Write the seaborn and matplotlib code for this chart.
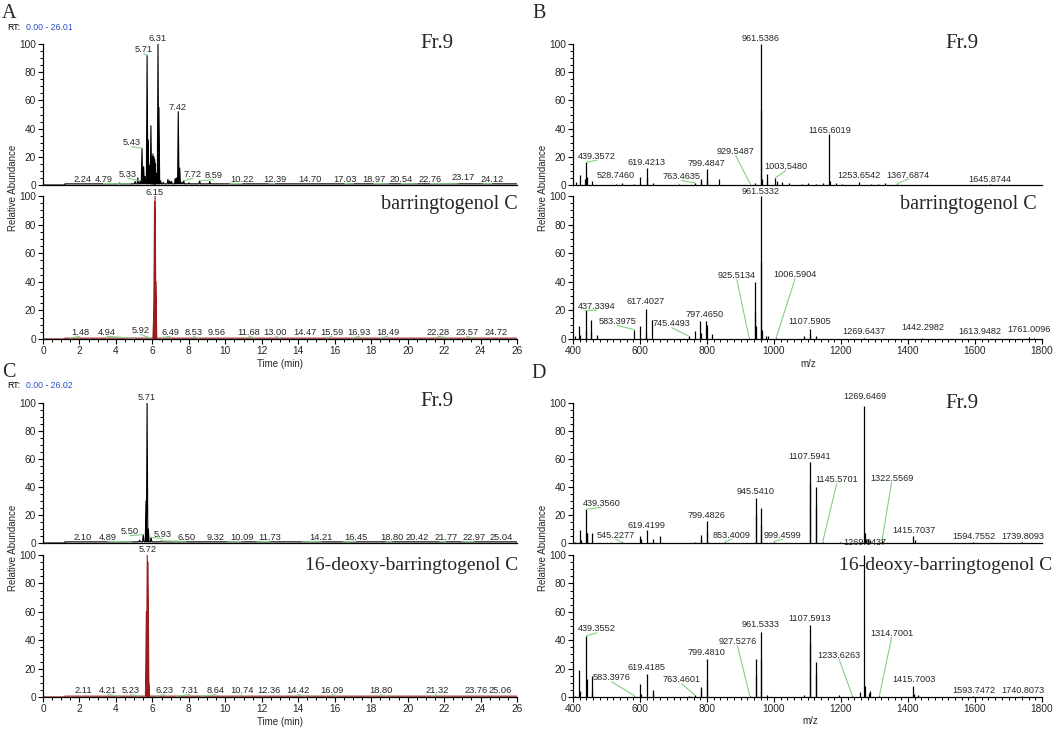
import numpy as np
import pandas as pd
import matplotlib
matplotlib.use("Agg")
import matplotlib.pyplot as plt
from matplotlib.ticker import MultipleLocator
import seaborn as sns

sns.set_theme(style="ticks")
plt.rcParams['font.family'] = ['Liberation Sans', 'DejaVu Sans']

# ---------------------------------------------------------------- data
# Chromatograms: peak apex retention times (min) and relative intensities
a_fr9_rt = [4.20, 5.05, 5.20, 5.33, 5.43, 5.52, 5.60, 5.71, 5.77, 5.85, 5.92, 5.98, 6.03,
            6.09, 6.13, 6.16, 6.22, 6.31, 6.36, 6.45, 6.60, 6.85, 6.95, 7.05, 7.25, 7.32,
            7.42, 7.50, 7.62, 7.72, 8.00, 8.59, 9.15, 10.22]
a_fr9_int = [1.5, 2.5, 5.0, 3.0, 26.0, 13.0, 6.0, 92.0, 32.0, 14.0, 42.0, 20.0, 22.0,
             20.0, 18.0, 15.0, 8.0, 100.0, 55.0, 3.0, 2.0, 4.0, 3.0, 2.5, 4.5, 5.0,
             52.0, 12.0, 2.0, 3.0, 1.5, 3.0, 2.5, 1.2]
a_std_rt = [6.08, 6.12, 6.15, 6.19, 6.49]
a_std_int = [20.0, 96.0, 100.0, 40.0, 1.0]
c_fr9_rt = [5.30, 5.50, 5.65, 5.71, 5.78, 5.93, 6.50, 7.30]
c_fr9_int = [2.0, 6.0, 30.0, 100.0, 10.0, 4.0, 1.5, 1.0]
c_std_rt = [5.67, 5.72, 5.76, 5.80]
c_std_int = [60.0, 100.0, 95.0, 10.0]

# Chromatogram peak labels: text (= RT), label x, label y
a_fr9_lab = ["2.24", "4.79", "5.33", "5.43", "5.71", "6.31", "7.42", "7.72", "8.59", "10.22",
             "12.39", "14.70", "17.03", "18.97", "20.54", "22.76", "23.17", "24.12"]
a_fr9_lab_x = [2.18, 3.31, 4.65, 4.89, 5.53, 6.30, 7.39, 8.22, 9.35, 10.91,
               12.70, 14.63, 16.55, 18.14, 19.65, 21.25, 23.05, 24.61]
a_fr9_lab_y = [3.8, 3.8, 7.5, 30.0, 96.0, 104.0, 55.0, 7.5, 6.5, 3.8,
               3.8, 3.8, 3.8, 3.8, 3.8, 3.8, 5.2, 3.8]
a_std_lab = ["6.15", "1.48", "4.94", "5.92", "6.49", "8.53", "9.56", "11.68", "13.00",
             "14.47", "15.59", "16.93", "18.49", "22.28", "23.57", "24.72"]
a_std_lab_x = [6.11, 2.03, 3.51, 5.34, 6.99, 8.25, 9.55, 11.28, 12.75,
               14.35, 15.85, 17.35, 18.90, 21.65, 23.25, 24.85]
a_std_lab_y = [102.5, 4.7, 4.7, 6.0, 4.7, 4.7, 4.7, 4.7, 4.7,
               4.7, 4.7, 4.7, 4.7, 4.7, 4.7, 4.7]
c_fr9_lab = ["5.71", "2.10", "4.89", "5.50", "5.93", "6.50", "9.32", "10.09", "11.73",
             "14.21", "16.45", "18.80", "20.42", "21.77", "22.97", "25.04"]
c_fr9_lab_x = [5.71, 2.19, 3.55, 4.75, 6.55, 7.85, 9.45, 10.90, 12.45,
               15.25, 17.15, 19.15, 20.55, 22.10, 23.65, 25.15]
c_fr9_lab_y = [104.0, 4.0, 4.0, 8.0, 6.0, 4.0, 4.0, 4.0, 4.0,
               4.0, 4.0, 4.0, 4.0, 4.0, 4.0, 4.0]
c_std_lab = ["5.72", "2.11", "4.21", "5.23", "6.23", "7.31", "8.64", "10.74", "12.36",
             "14.42", "16.09", "18.80", "21.32", "23.76", "25.06"]
c_std_lab_x = [5.72, 2.19, 3.55, 4.80, 6.67, 8.05, 9.47, 10.90, 12.38,
               13.97, 15.83, 18.52, 21.60, 23.74, 25.10]
c_std_lab_y = [104.0, 4.5, 4.5, 4.5, 4.5, 4.5, 4.5, 4.5, 4.5,
               4.5, 4.5, 4.5, 4.5, 4.5, 4.5]

# Mass spectra: m/z and relative abundance
b_fr9_mz = [408, 421, 437, 439.36, 440.4, 455.3, 528.7, 545, 583, 601.4, 619.42, 620.4,
            637.4, 715, 763.46, 781.5, 783.5, 799.48, 800.5, 835.5, 943.5, 961.54, 962.54,
            963.5, 979.5, 980.5, 1003.55, 1007.5, 1025, 1045, 1085, 1101, 1125, 1147,
            1165.6, 1166.6, 1185, 1203, 1253.65, 1290, 1310, 1330, 1367.69, 1645.87]
b_fr9_int = [2, 7, 4, 16, 6, 3, 1, 1.5, 1, 6, 12, 5,
             1.5, 0.8, 1.5, 2, 4, 11, 4, 4, 1.5, 100, 53,
             4, 8, 3, 5, 3, 2, 1.5, 1, 1.5, 1, 1.5,
             36, 3, 1.5, 1, 2.4, 1, 1, 1.5, 1, 0.5]
b_std_mz = [406, 419, 421, 437.34, 438.3, 453, 455, 471, 583.4, 601.4, 617.4, 618.4,
            635.4, 745.45, 763, 779.5, 781.5, 797.47, 799.5, 815.5, 925.5, 943.5, 944.5,
            945.5, 961.53, 962.53, 963.5, 977, 981, 1006.59, 1091, 1107.59, 1108.6, 1125,
            1269.64, 1442.3, 1761, 1775]
b_std_int = [2, 9, 3, 20, 6, 13, 5, 3, 6.5, 9, 21, 5,
             13.5, 2, 5.3, 12.3, 4, 12.3, 9.5, 3.5, 1, 40, 19,
             9, 100, 54, 6, 2, 2, 1, 2, 7, 2.5, 2,
             1, 1, 1.5, 1]
d_fr9_mz = [406, 421, 423, 439.36, 440.4, 441.4, 455.3, 545.2, 601.4, 602.4, 619.42,
            637.4, 661, 763.5, 781.5, 783.5, 799.48, 800.5, 853.4, 945.54, 946.5, 961.5,
            962.5, 999.46, 1107.59, 1108.6, 1125.6, 1126.6, 1145.57, 1197, 1269.65,
            1270.65, 1275, 1280, 1287, 1322.56, 1415.7, 1420, 1594.76, 1739.81]
d_fr9_int = [1, 9.5, 2, 24, 7, 7, 7.5, 0.5, 5, 3, 9,
             3, 5, 1, 3, 5.5, 15.5, 8, 0.8, 32.5, 20, 25,
             13, 1, 58, 42, 40, 26, 1, 1, 98,
             7.5, 3, 3, 2, 2, 5, 2, 0.5, 0.5]
d_std_mz = [406, 419, 420, 439.36, 440.4, 455.3, 456.3, 583.4, 601.4, 602.4, 619.42,
            637.4, 638.4, 745, 763.46, 781.5, 783.5, 799.48, 800.5, 927.5, 945.5, 946.5,
            961.53, 962.53, 979, 1091, 1107.59, 1108.6, 1125.6, 1126.6, 1194, 1233.6,
            1257, 1269.64, 1270.64, 1285, 1288, 1314.7, 1415.7, 1417, 1431, 1593.7, 1740.8]
d_std_int = [1, 19, 4, 43, 13, 14.6, 4, 1, 9, 2, 16.5,
             5, 2, 1, 1.5, 7, 4, 26.6, 12, 1, 26.6, 14.5,
             46, 26, 1.5, 1.2, 51, 37.6, 24.7, 16.5, 1.5, 1,
             3.5, 100, 7.8, 3, 4, 1, 7.8, 2, 1.5, 0.5, 0.5]

# Mass spectrum labels: text, label x, label y
b_fr9_lab = ["961.5386", "439.3572", "528.7460", "619.4213", "763.4635", "799.4847",
             "929.5487", "1003.5480", "1165.6019", "1253.6542", "1367.6874", "1645.8744"]
b_fr9_lab_x = [961, 471, 528, 618, 724, 797, 886, 1035, 1165, 1254, 1401, 1645]
b_fr9_lab_y = [104, 20.5, 6.6, 16, 6, 15.5, 23.7, 13, 39, 7, 7, 3.8]
b_std_lab = ["961.5332", "437.3394", "583.3975", "617.4027", "745.4493", "797.4650",
             "925.5134", "1006.5904", "1107.5905", "1269.6437", "1442.2982", "1613.9482",
             "1761.0096"]
b_std_lab_x = [961, 471, 532, 617, 695, 794, 889, 1063, 1107, 1269, 1443, 1615, 1761]
b_std_lab_y = [103, 23, 12.3, 26, 10.7, 17.4, 44.4, 45, 12.3, 5.3, 8, 5.3, 6.5]
d_fr9_lab = ["1269.6469", "439.3560", "545.2277", "619.4199", "799.4826", "853.4009",
             "945.5410", "999.4599", "1107.5941", "1145.5701", "1322.5569", "1415.7037",
             "1594.7552", "1739.8093"]
d_fr9_lab_x = [1272, 485, 528, 618, 797, 874, 945, 1025, 1107, 1187, 1351, 1418, 1597, 1744]
d_fr9_lab_y = [104.7, 28.4, 5.5, 12.6, 19.7, 5.5, 36.7, 5.5, 62, 45, 46, 9, 4.7, 4.7]
d_std_lab = ["1269.6437", "439.3552", "583.3976", "619.4185", "763.4601", "799.4810",
             "927.5276", "961.5333", "1107.5913", "1233.6263", "1314.7001", "1415.7003",
             "1593.7472", "1740.8073"]
d_std_lab_x = [1271, 471, 515, 618, 724, 797, 891, 960, 1107, 1195, 1351, 1418, 1598, 1743]
d_std_lab_y = [108.5, 48, 13.6, 21, 12.2, 31, 38.8, 51, 55, 29, 44.7, 12.2, 4.7, 4.7]

# ---------------------------------------------------------------- layout
W, H = 1063, 731
fig = plt.figure(figsize=(W / 100, H / 100), dpi=100)

GREEN = '#86cf86'
RED = '#9c1c1c'
SANS = ['Liberation Sans', 'DejaVu Sans']
SERIF = ['Liberation Serif', 'DejaVu Serif']


def make_ax(x0, x1, y100, y0):
    return fig.add_axes([x0 / W, 1 - y0 / H, (x1 - x0) / W, (y0 - y100) / H])


def style_ax(ax, xlim, xmaj, xmin, bottom_ticks):
    ax.set_xlim(*xlim)
    ax.set_ylim(0, 100)
    ax.set_facecolor('white')
    for s in ['top', 'right']:
        ax.spines[s].set_visible(False)
    for s in ['left', 'bottom']:
        ax.spines[s].set_linewidth(0.9)
        ax.spines[s].set_color('black')
    ax.yaxis.set_major_locator(MultipleLocator(20))
    ax.yaxis.set_minor_locator(MultipleLocator(5))
    ax.xaxis.set_major_locator(MultipleLocator(xmaj))
    ax.xaxis.set_minor_locator(MultipleLocator(xmin))
    ax.tick_params(which='major', direction='out', length=3.5, width=0.8, labelsize=7.3,
                   pad=1.5, color='black')
    ax.tick_params(which='minor', direction='out', length=2, width=0.7, color='black')
    if not bottom_ticks:
        ax.tick_params(axis='x', which='both', bottom=False, labelbottom=False)
    ax.set_xlabel('')
    ax.set_ylabel('')


def chrom_xy(rt, inten, base, hw, start=1.2, end=26.0):
    xs = [0.0, start, start]
    ys = [0.0, 0.0, base]
    for t, h in zip(rt, inten):
        xs += [t - hw, t, t + hw]
        ys += [base, h, base]
    xs.append(end)
    ys.append(base)
    return xs, ys


def draw_chrom(ax, rt, inten, color, base, hw, labs, lx, ly):
    xs, ys = chrom_xy(rt, inten, base, hw)
    df = pd.DataFrame({'t': xs, 'i': ys})
    sns.lineplot(data=df, x='t', y='i', sort=False, estimator=None, color=color,
                 lw=0.8, ax=ax)
    for s, x, y in zip(labs, lx, ly):
        t = float(s)
        hts = [h for r, h in zip(rt, inten) if abs(r - t) < 0.03]
        ty = max(hts) if hts else base
        ax.text(x, y, s, ha='center', va='center', fontsize=6.7, clip_on=False)
        if abs(x - t) > 0.15:
            ax.plot([t, x], [ty, y - 2.8], color=GREEN, lw=0.8, clip_on=False)


def draw_ms(ax, mz, inten, labs, lx, ly):
    ax.vlines(mz, 0, inten, color='black', lw=0.9)
    mz_a = np.array(mz, dtype=float)
    in_a = np.array(inten, dtype=float)
    for s, x, y in zip(labs, lx, ly):
        m = float(s)
        near = in_a[np.abs(mz_a - m) < 1.5]
        ty = near.max() if near.size else 0.5
        ax.text(x, y, s, ha='center', va='center', fontsize=6.6, clip_on=False)
        if abs(x - m) > 8:
            ax.plot([m, x], [ty, y - 2.8], color=GREEN, lw=0.8, clip_on=False)


def ftext(x, y, s, **kw):
    fig.text(x / W, 1 - y / H, s, **kw)


# Panel A
axA1 = make_ax(43, 517, 44, 185)
draw_chrom(axA1, a_fr9_rt, a_fr9_int, 'black', 0.8, 0.04, a_fr9_lab, a_fr9_lab_x, a_fr9_lab_y)
style_ax(axA1, (0, 26), 2, 0.5, False)
axA2 = make_ax(43, 517, 196, 339)
draw_chrom(axA2, a_std_rt, a_std_int, RED, 0.6, 0.05, a_std_lab, a_std_lab_x, a_std_lab_y)
style_ax(axA2, (0, 26), 2, 0.5, True)

# Panel B
axB1 = make_ax(573, 1042, 44, 185)
draw_ms(axB1, b_fr9_mz, b_fr9_int, b_fr9_lab, b_fr9_lab_x, b_fr9_lab_y)
style_ax(axB1, (400, 1800), 200, 20, False)
axB2 = make_ax(573, 1042, 196, 339)
draw_ms(axB2, b_std_mz, b_std_int, b_std_lab, b_std_lab_x, b_std_lab_y)
style_ax(axB2, (400, 1800), 200, 20, True)

# Panel C
axC1 = make_ax(43, 517, 403, 543)
draw_chrom(axC1, c_fr9_rt, c_fr9_int, 'black', 0.8, 0.04, c_fr9_lab, c_fr9_lab_x, c_fr9_lab_y)
style_ax(axC1, (0, 26), 2, 0.5, False)
axC2 = make_ax(43, 517, 555, 697)
draw_chrom(axC2, c_std_rt, c_std_int, RED, 0.6, 0.05, c_std_lab, c_std_lab_x, c_std_lab_y)
style_ax(axC2, (0, 26), 2, 0.5, True)

# Panel D
axD1 = make_ax(573, 1042, 403, 543)
draw_ms(axD1, d_fr9_mz, d_fr9_int, d_fr9_lab, d_fr9_lab_x, d_fr9_lab_y)
style_ax(axD1, (400, 1800), 200, 20, False)
axD2 = make_ax(573, 1042, 555, 697)
draw_ms(axD2, d_std_mz, d_std_int, d_std_lab, d_std_lab_x, d_std_lab_y)
style_ax(axD2, (400, 1800), 200, 20, True)

# ---------------------------------------------------------------- texts
for lx, ly, letter in [(9, 13.5, 'A'), (539, 13.5, 'B'), (9, 372.5, 'C'), (539, 373.5, 'D')]:
    ftext(lx, ly, letter, family=SERIF, fontsize=14.5, ha='center', va='center')

for ry, rng in [(28, '0.00 - 26.01'), (386, '0.00 - 26.02')]:
    ftext(7, ry, 'RT:', family=SANS, fontsize=6.3, ha='left', va='center', color='black')
    ftext(26, ry, rng, family=SANS, fontsize=6.3, ha='left', va='center', color='#2d4fc4')

for x, y in [(13.5, 188), (543.5, 188), (13.5, 548), (543.5, 548)]:
    ftext(x, y, 'Relative Abundance', family=SANS, fontsize=7, rotation=90,
          ha='center', va='center')

ftext(280, 364, 'Time (min)', family=SANS, fontsize=7, ha='center', va='center')
ftext(280, 722, 'Time (min)', family=SANS, fontsize=7, ha='center', va='center')
ftext(808, 364, 'm/z', family=SANS, fontsize=7, ha='center', va='center')
ftext(810, 721, 'm/z', family=SANS, fontsize=7, ha='center', va='center')

ftext(437, 43, 'Fr.9', family=SERIF, fontsize=15, ha='center', va='center')
ftext(961.5, 43, 'Fr.9', family=SERIF, fontsize=15, ha='center', va='center')
ftext(437, 402, 'Fr.9', family=SERIF, fontsize=15, ha='center', va='center')
ftext(961.5, 403, 'Fr.9', family=SERIF, fontsize=15, ha='center', va='center')
ftext(518, 205, 'barringtogenol C', family=SERIF, fontsize=14.5, ha='right', va='center')
ftext(1037, 205, 'barringtogenol C', family=SERIF, fontsize=14.5, ha='right', va='center')
ftext(518, 566, '16-deoxy-barringtogenol C', family=SERIF, fontsize=14, ha='right', va='center')
ftext(1052, 566, '16-deoxy-barringtogenol C', family=SERIF, fontsize=14, ha='right', va='center')

fig.savefig('out.png', dpi=100, facecolor='white')
